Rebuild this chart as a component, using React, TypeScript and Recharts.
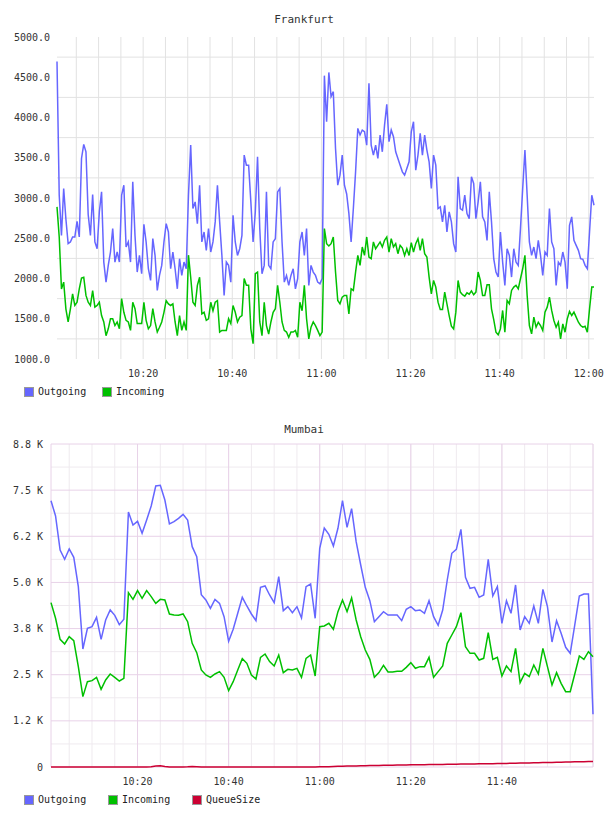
import { LineChart, Line, XAxis, YAxis, CartesianGrid } from "recharts";

const FONT = '"DejaVu Sans Mono", monospace';
const TEXT = "#333333";

const OUT_COLOR = "#6666ff";
const IN_COLOR = "#00c000";
const QUEUE_COLOR = "#cc0033";

// Frankfurt: one sample every 30 s, first one at 10:00:40
const fraStart = 600 + 40 / 60;
const fraStep = 0.5;

const fraOutgoing = [
  4695, 3035, 2536, 3118, 2736, 2433, 2454, 2516, 2516, 2711,
  2516, 3491, 3666, 3574, 2794, 2536, 3043, 2454, 2370, 2827,
  3076, 2204, 1955, 2163, 2329, 2620, 2204, 2329, 2204, 3035,
  3159, 2391, 2454, 2204, 3201, 2536, 2080, 2287, 2059, 2674,
  2454, 2121, 1976, 2495, 2287, 1852, 2038, 2163, 2454, 2682,
  2578, 2121, 2329, 2121, 1872, 2246, 2038, 2204, 2121, 3035,
  3657, 2869, 2952, 2682, 3159, 2454, 2578, 2350, 2620, 2329,
  2454, 2703, 3159, 2703, 2287, 1789, 2204, 2163, 1955, 2786,
  2454, 2287, 2370, 2536, 3533, 3408, 3408, 2952, 2454, 2827,
  3512, 2620, 2059, 2163, 3076, 2163, 2121, 2454, 2495, 3076,
  3118, 2454, 1955, 2038, 1914, 2038, 2121, 1872, 1997, 2454,
  2578, 2287, 2620, 1914, 2163, 2080, 2038, 1955, 1935, 2000,
  4520, 3948, 4560, 4259, 4321, 3616, 3159, 3284, 3533, 3159,
  3050, 2806, 2454, 2869, 3325, 3865, 3782, 3844, 3823, 3657,
  4425, 3657, 3533, 3657, 3491, 3782, 3574, 3906, 4164, 3699,
  3844, 3761, 3574, 3491, 3408, 3325, 3284, 3367, 3450, 3823,
  3948, 3346, 3533, 3802, 3533, 3782, 3595, 3450, 3118, 3533,
  3408, 2869, 2889, 2703, 2910, 2578, 2827, 2703, 2433, 2329,
  3263, 2869, 2848, 3035, 2806, 2744, 3263, 3180, 2744, 2952,
  3201, 2765, 2703, 2474, 3076, 2703, 2246, 2080, 2018, 2578,
  2204, 1914, 2370, 2287, 2018, 2370, 2204, 2163, 2620, 3118,
  3595, 3035, 2454, 2287, 2391, 2246, 2474, 2287, 2038, 2329,
  2287, 2869, 2454, 2370, 1914, 2204, 2163, 2329, 2204, 1872,
  2661, 2765, 2474, 2412, 2350, 2246, 2238, 2163, 2121, 2578,
  3035, 2910,
];

const fraIncoming = [
  2890, 2515, 1870, 1955, 1620, 1460, 1620, 1810, 1665, 1705,
  1870, 2005, 2015, 1790, 1705, 1665, 1850, 1645, 1665, 1705,
  1540, 1460, 1290, 1375, 1500, 1500, 1415, 1460, 1375, 1750,
  1580, 1480, 1460, 1355, 1705, 1625, 1440, 1440, 1440, 1705,
  1480, 1375, 1415, 1625, 1460, 1335, 1395, 1460, 1580, 1725,
  1685, 1665, 1685, 1460, 1290, 1540, 1355, 1460, 1355, 2290,
  2015, 1705, 1665, 1915, 2015, 1560, 1580, 1480, 1500, 1705,
  1600, 1705, 1725, 1335, 1355, 1355, 1355, 1500, 1440, 1665,
  1580, 1460, 1520, 1540, 2000, 1915, 1915, 1375, 1190, 2060,
  2080, 1460, 1290, 1705, 1415, 1310, 1460, 1580, 1625, 1915,
  1705, 1460, 1355, 1335, 1270, 1335, 1335, 1355, 1270, 1705,
  1600, 1915, 1500, 1250, 1395, 1460, 1415, 1355, 1290, 1335,
  2620, 2433, 2404, 2433, 2516, 2080, 1727, 1685, 1769, 1789,
  1789, 1561, 1872, 1852, 2080, 2287, 2163, 2391, 2287, 2516,
  2267, 2246, 2454, 2370, 2412, 2454, 2391, 2474, 2516, 2329,
  2495, 2391, 2433, 2308, 2412, 2379, 2287, 2370, 2287, 2445,
  2329, 2433, 2495, 2350, 2495, 2308, 2267, 2018, 1810, 1976,
  1893, 1706, 1615, 1615, 1831, 1686, 1540, 1407, 1374, 1582,
  1976, 1831, 1798, 1781, 1823, 1806, 1847, 1798, 1831, 2080,
  1976, 1789, 1789, 1922, 1922, 1623, 1490, 1333, 1300, 1374,
  1603, 1333, 1727, 1686, 1852, 1893, 1914, 1872, 1997, 2121,
  2287, 1789, 1416, 1312, 1520, 1395, 1457, 1416, 1354, 1582,
  1644, 1769, 1603, 1478, 1395, 1457, 1250, 1437, 1333, 1499,
  1590, 1540, 1582, 1520, 1457, 1416, 1395, 1407, 1333, 1623,
  1893, 1893,
];

// Mumbai: one sample per minute, 10:01 .. 12:00
const mumStart = 601;

const mumOutgoing = [
  7215, 6800, 5879, 5626, 5906, 5680, 4886, 3197, 3757, 3802,
  4055, 3459, 3982, 4253, 4109, 3856, 4001, 6908, 6556, 6655,
  6330, 6691, 7071, 7613, 7631, 7233, 6583, 6646, 6737, 6845,
  6691, 5969, 5698, 4669, 4524, 4298, 4542, 4434, 4073, 3405,
  3730, 4163, 4597, 4362, 4145, 3965, 4867, 4903, 4660, 4452,
  5156, 4235, 4344, 4181, 4344, 4037, 4886, 4958, 4028, 5924,
  6475, 6303, 5987, 6466, 7215, 6493, 6999, 6105, 5472, 4867,
  4506, 3937, 4073, 4208, 4118, 4118, 4118, 3965, 4271, 4344,
  4235, 4253, 4163, 4506, 4073, 3838, 4253, 5066, 5789, 5897,
  6439, 5138, 4840, 4867, 4597, 4660, 5626, 4633, 4886, 3892,
  4506, 4163, 4931, 3712, 4073, 3892, 4362, 3892, 4813, 4344,
  3387, 3965, 3621, 3242, 3080, 3847, 4633, 4687, 4687, 1427,
];

const mumIncoming = [
  4452, 4028, 3459, 3332, 3531, 3423, 2718, 1906, 2312, 2339,
  2429, 2104, 2357, 2520, 2429, 2330, 2402, 4723, 4542, 4777,
  4569, 4777, 4615, 4434, 4542, 4524, 4145, 4118, 4109, 4145,
  3937, 3350, 3098, 2628, 2493, 2429, 2520, 2583, 2429, 2068,
  2312, 2628, 2935, 2809, 2493, 2384, 2971, 3061, 2854, 2736,
  3034, 2556, 2646, 2628, 2673, 2429, 2944, 3034, 2465, 3802,
  3820, 3892, 3730, 4208, 4524, 4208, 4579, 3982, 3531, 3170,
  2917, 2429, 2556, 2754, 2574, 2574, 2592, 2592, 2700, 2827,
  2673, 2718, 2718, 2971, 2429, 2583, 2736, 3350, 3576, 3802,
  4181, 3260, 3080, 3080, 2899, 2944, 3639, 2917, 2971, 2465,
  2736, 2583, 3215, 2285, 2538, 2447, 2764, 2520, 3215, 2718,
  2222, 2556, 2267, 2041, 2041, 2520, 3007, 2917, 3125, 2989,
];

const mumQueue = [
  0, 0, 0, 0, 0, 0, 0, 0, 0, 0,
  0, 0, 0, 0, 0, 0, 0, 0, 0, 0,
  0, 0, 10, 30, 35, 15, 0, 0, 0, 0,
  5, 15, 10, 0, 0, 0, 0, 0, 0, 0,
  0, 0, 0, 0, 0, 0, 0, 0, 0, 0,
  0, 0, 0, 0, 0, 0, 0, 0, 2, 5,
  6, 9, 14, 17, 21, 24, 26, 30, 33, 36,
  38, 41, 43, 45, 48, 50, 52, 55, 57, 59,
  61, 62, 64, 66, 68, 69, 71, 72, 74, 76,
  78, 80, 81, 83, 85, 87, 89, 91, 93, 96,
  98, 100, 103, 105, 108, 111, 114, 116, 119, 122,
  125, 128, 131, 134, 137, 139, 142, 145, 148, 150,
];

// axis ticks and grid positions (minutes since midnight / values)
const fraTimeTicks = [620, 640, 660, 680, 700, 720];
const mumTimeTicks = [620, 640, 660, 680, 700];
const fiveMinuteLines = [
  605, 610, 615, 620, 625, 630, 635, 640, 645, 650, 655, 660,
  665, 670, 675, 680, 685, 690, 695, 700, 705, 710, 715, 720,
];
const mumMajorX = [601, 620, 640, 660, 680, 700, 720];

const fraYTicks = [1000, 1500, 2000, 2500, 3000, 3500, 4000, 4500, 5000];
const fraGridY = [1250, 1750, 2250, 2750, 3250, 3750, 4250, 4750];

const mumYTicks = [0, 1250, 2500, 3750, 5000, 6250, 7500, 8750];
const mumYLabels = ["0", "1.2 K", "2.5 K", "3.8 K", "5.0 K", "6.2 K", "7.5 K", "8.8 K"];
const mumMinorY = [625, 1875, 3125, 4375, 5625, 6875, 8125];

const fraData = fraOutgoing.map((v, i) => ({
  t: fraStart + i * fraStep,
  outgoing: v,
  incoming: fraIncoming[i],
}));

const mumData = mumOutgoing.map((v, i) => ({
  t: mumStart + i,
  outgoing: v,
  incoming: mumIncoming[i],
  queue: mumQueue[i],
}));

const fmtTime = (m: number) => {
  const h = Math.floor(m / 60);
  const mm = Math.round(m - h * 60);
  return `${h}:${String(mm).padStart(2, "0")}`;
};

const tickStyle = { fontSize: 10, fill: TEXT, fontFamily: FONT };

const Title = ({ text, top }: { text: string; top: number }) => (
  <div
    style={{
      position: "absolute",
      left: 0,
      top,
      width: 608,
      textAlign: "center",
      fontFamily: FONT,
      fontSize: 11,
      lineHeight: "12px",
      color: TEXT,
    }}
  >
    {text}
  </div>
);

const LegendItem = ({ x, y, color, label }: { x: number; y: number; color: string; label: string }) => (
  <div style={{ position: "absolute", left: x, top: y, display: "flex", alignItems: "center" }}>
    <div
      style={{
        width: 8,
        height: 8,
        background: color,
        border: "1px solid #999",
        marginRight: 4,
      }}
    />
    <span style={{ fontFamily: FONT, fontSize: 10, color: "#222", lineHeight: "10px" }}>{label}</span>
  </div>
);

export default function App() {
  return (
    <div
      style={{
        position: "absolute",
        left: 0,
        top: 0,
        width: 608,
        height: 816,
        background: "#fff",
        overflow: "hidden",
      }}
    >
      <Title text="Frankfurt" top={14} />
      <div style={{ position: "absolute", left: 0, top: 0 }}>
        <LineChart width={608} height={400} data={fraData} margin={{ top: 37, right: 14, bottom: 11, left: 0 }}>
          <CartesianGrid
            stroke="#e2e2e2"
            horizontalValues={fraGridY}
            verticalValues={fiveMinuteLines}
          />
          <XAxis
            type="number"
            dataKey="t"
            domain={[fraStart, fraStart + (fraOutgoing.length - 1) * fraStep]}
            ticks={fraTimeTicks}
            tickFormatter={fmtTime}
            interval={0}
            axisLine={false}
            tickLine={false}
            tickMargin={5}
            height={30}
            tick={tickStyle}
          />
          <YAxis
            type="number"
            domain={[1000, 5000]}
            ticks={fraYTicks}
            tickFormatter={(v: number) => v.toFixed(1)}
            interval={0}
            axisLine={false}
            tickLine={false}
            tickMargin={1}
            width={57}
            tick={tickStyle}
          />
          <Line type="linear" dataKey="outgoing" stroke={OUT_COLOR} strokeWidth={1.5} dot={false} isAnimationActive={false} />
          <Line type="linear" dataKey="incoming" stroke={IN_COLOR} strokeWidth={1.5} dot={false} isAnimationActive={false} />
        </LineChart>
      </div>
      <LegendItem x={24} y={387} color={OUT_COLOR} label="Outgoing" />
      <LegendItem x={102} y={387} color={IN_COLOR} label="Incoming" />

      <Title text="Mumbai" top={424} />
      <div style={{ position: "absolute", left: 0, top: 400 }}>
        <LineChart width={608} height={416} data={mumData} margin={{ top: 44, right: 15, bottom: 19, left: 0 }}>
          <CartesianGrid stroke="#efeaef" horizontalValues={mumMinorY} verticalValues={fiveMinuteLines} />
          <CartesianGrid stroke="#e8d2e8" horizontalValues={mumYTicks} verticalValues={mumMajorX} />
          <XAxis
            type="number"
            dataKey="t"
            domain={[mumStart, mumStart + mumOutgoing.length - 1]}
            ticks={mumTimeTicks}
            tickFormatter={fmtTime}
            interval={0}
            axisLine={false}
            tickLine={false}
            tickMargin={5}
            height={30}
            tick={tickStyle}
          />
          <YAxis
            type="number"
            domain={[0, 8750]}
            ticks={mumYTicks}
            tickFormatter={(v: number) => mumYLabels[mumYTicks.indexOf(v)] ?? ""}
            interval={0}
            axisLine={false}
            tickLine={false}
            width={51}
            tick={tickStyle}
          />
          <Line type="linear" dataKey="outgoing" stroke={OUT_COLOR} strokeWidth={1.5} dot={false} isAnimationActive={false} />
          <Line type="linear" dataKey="incoming" stroke={IN_COLOR} strokeWidth={1.5} dot={false} isAnimationActive={false} />
          <Line type="linear" dataKey="queue" stroke={QUEUE_COLOR} strokeWidth={1.5} dot={false} isAnimationActive={false} />
        </LineChart>
      </div>
      <LegendItem x={24} y={795} color={OUT_COLOR} label="Outgoing" />
      <LegendItem x={108} y={795} color={IN_COLOR} label="Incoming" />
      <LegendItem x={192} y={795} color={QUEUE_COLOR} label="QueueSize" />
    </div>
  );
}
